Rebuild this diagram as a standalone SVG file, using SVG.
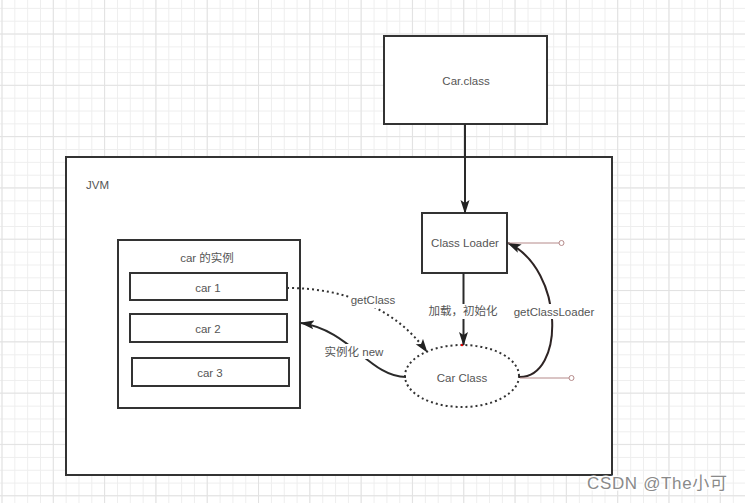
<svg xmlns="http://www.w3.org/2000/svg" width="745" height="503" viewBox="0 0 745 503">
<defs>
<pattern id="minor" x="1.5" y="7.9" width="12.83" height="12.83" patternUnits="userSpaceOnUse">
<path d="M0 0.5H12.83M0.5 0V12.83" fill="none" stroke="#eeeeee" stroke-width="1"/>
</pattern>
<pattern id="major" x="1.5" y="33.5" width="51.3" height="51.3" patternUnits="userSpaceOnUse">
<path d="M0 0.5H51.3M0.5 0V51.3" fill="none" stroke="#e2e2e2" stroke-width="1"/>
</pattern>
<marker id="arr" viewBox="0 0 14 10" refX="13" refY="5" markerWidth="14" markerHeight="10" markerUnits="userSpaceOnUse" orient="auto">
<path d="M0 0.5L14 5L0 9.5L3 5Z" fill="#222"/>
</marker>
</defs>
<style>
.box{fill:#fff;stroke:#333;stroke-width:2}
.t{font-family:"Liberation Sans","Noto Sans CJK SC",sans-serif;font-size:11.5px;fill:#555;text-anchor:middle;dominant-baseline:central}
.lbl{fill:#fff}
.solid{fill:none;stroke:#2a2a2a;stroke-width:2}
.dot{fill:none;stroke:#333;stroke-width:2;stroke-dasharray:2 3}
.pin{fill:none;stroke:#b58a8a;stroke-width:1}
</style>
<rect width="745" height="503" fill="#fff"/>
<rect width="745" height="503" fill="url(#minor)"/>
<rect width="745" height="503" fill="url(#major)"/>

<g id="jvm">
<rect class="box" x="66" y="157" width="546" height="318"/>
<text class="t" x="86" y="185" style="text-anchor:start">JVM</text>
</g>
<g id="carclass-file">
<rect class="box" x="384" y="36" width="163" height="88"/>
<text class="t" x="466" y="81">Car.class</text>
</g>
<g id="classloader">
<rect class="box" x="422" y="213" width="85" height="60"/>
<text class="t" x="465" y="243">Class Loader</text>
</g>
<g id="instances">
<rect class="box" x="118" y="240" width="182" height="168"/>
<text class="t" x="207" y="258">car 的实例</text>
</g>
<g id="car1">
<rect class="box" x="130" y="273" width="157" height="27"/>
<text class="t" x="208" y="288">car 1</text>
</g>
<g id="car2">
<rect class="box" x="130" y="314" width="157" height="28"/>
<text class="t" x="208" y="329">car 2</text>
</g>
<g id="car3">
<rect class="box" x="132" y="358" width="157" height="28"/>
<text class="t" x="210" y="373">car 3</text>
</g>
<g id="carclass">
<ellipse cx="462" cy="376" rx="57" ry="31" fill="#fff" class="dot"/>
<text class="t" x="462" y="378">Car Class</text>
<circle cx="462" cy="345" r="1.3" fill="#e00"/>
</g>

<g id="connectors">
<line class="solid" x1="465" y1="124" x2="465" y2="213" marker-end="url(#arr)"/>
<line class="solid" x1="463.5" y1="273" x2="463.5" y2="345" marker-end="url(#arr)"/>
<rect class="lbl" x="428" y="304" width="72" height="15"/>
<text class="t" x="463" y="311">加载，初始化</text>

<path class="dot" d="M287 288C345 288 395 308 427 352" marker-end="url(#arr)"/>
<rect class="lbl" x="349" y="293" width="48" height="15"/>
<text class="t" x="373" y="300">getClass</text>

<path class="solid" d="M406 377C370 377 350 330 301 323" marker-end="url(#arr)"/>
<rect class="lbl" x="323" y="344" width="62" height="15"/>
<text class="t" x="354" y="352">实例化 new</text>

<path class="solid" d="M519 377C565 378 565 270 508 243" marker-end="url(#arr)" style="stroke:#2e2424"/>
<rect class="lbl" x="513" y="304" width="81" height="15"/>
<text class="t" x="554" y="312">getClassLoader</text>

<line class="pin" x1="508" y1="243" x2="559" y2="243"/>
<circle class="pin" cx="561.5" cy="243" r="2.5" fill="#fff"/>
<line class="pin" x1="520" y1="378" x2="569" y2="378"/>
<circle class="pin" cx="571.5" cy="378" r="2.5" fill="#fff"/>
</g>

<text x="587" y="489" style="font-family:'Liberation Sans','Noto Sans CJK SC',sans-serif;font-size:17px;fill:#8a8a8a;stroke:#fff;stroke-width:3;paint-order:stroke" textLength="140">CSDN @The小可</text>
</svg>
